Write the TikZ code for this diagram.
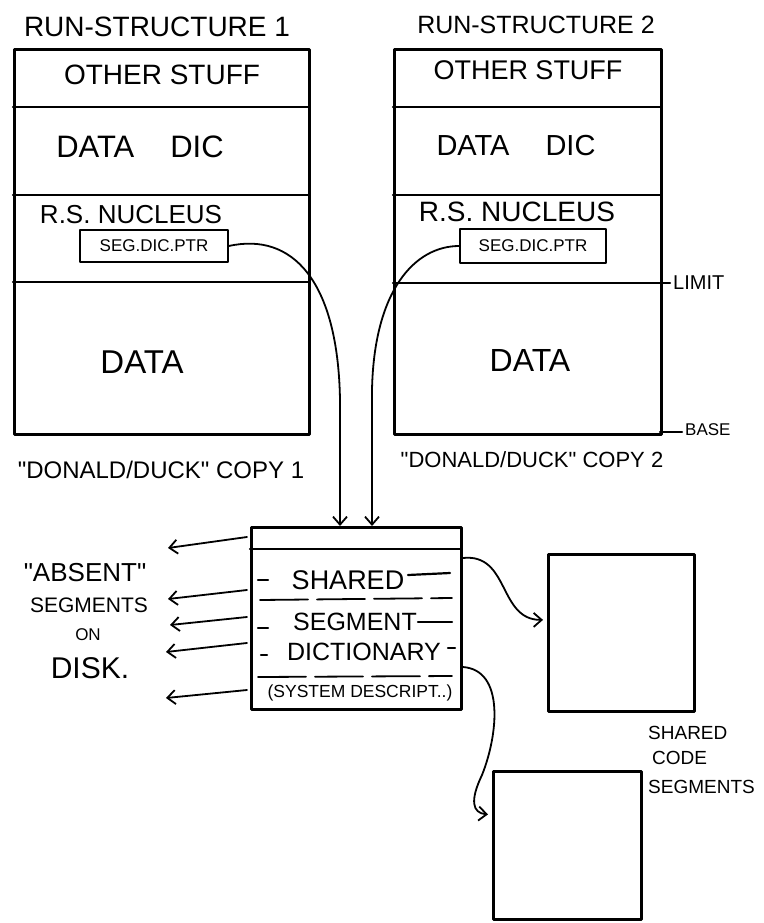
\documentclass[tikz,border=0pt]{standalone}
\usepackage{fontspec}
\setmainfont{Liberation Sans}
\usetikzlibrary{arrows.meta,calc}
\newcommand\lblsize[1]{\fontsize{#1}{#1}\selectfont}
\newcommand\qq{\textquotedbl}
\begin{document}
\begin{tikzpicture}[x=1pt,y=-1pt,
  line cap=round, line join=round,
  frame/.style={draw, line width=2.8pt, inner sep=0pt, anchor=north west},
  divider/.style={line width=2.2pt},
  ptrbox/.style={draw, line width=1.6pt, inner sep=0pt, font=\lblsize{17}},
  lbl/.style={inner sep=0pt},
  link/.style={line width=1.8pt, -{Straight Barb[length=8pt,width=14pt,line width=1.8pt]}},
  brokenline/.style={line width=1.8pt, dash pattern=on 48pt off 9pt}]
\useasboundingbox[fill=white] (0,0) rectangle (763,923);

% ---------- run-structure 1 ----------
\node[lbl, font=\lblsize{28}] (title1) at (157,27) {RUN-STRUCTURE 1};
\node[frame, minimum width=295pt, minimum height=385pt] (rs1) at (13,48) {};
\draw[divider] (13,107) -- (308,107);
\draw[divider] (13,195) -- (308,195);
\draw[divider] (13,282) -- (308,282);
\node[lbl, font=\lblsize{28}] (other1) at (162,75) {OTHER STUFF};
\node[lbl, font=\lblsize{31}] (dic1) at (140,147) {DATA\hspace{36pt}DIC};
\node[lbl, font=\lblsize{26}] (nuc1) at (131,215) {R.S. NUCLEUS};
\node[ptrbox, minimum width=148pt, minimum height=32pt] (ptr1) at (154,246) {SEG.DIC.PTR};
\node[lbl, font=\lblsize{33}] (data1) at (142,362) {DATA};
\node[lbl, font=\lblsize{24}] (copy1) at (161,470) {\qq DONALD/DUCK\qq{} COPY 1};

% ---------- run-structure 2 ----------
\node[lbl, font=\lblsize{25}] (title2) at (536,25) {RUN-STRUCTURE 2};
\node[frame, minimum width=267pt, minimum height=385pt] (rs2) at (393,48) {};
\draw[divider] (393,107) -- (660,107);
\draw[divider] (393,195) -- (660,195);
\draw[divider] (393,283) -- (670,283);
\draw[divider] (660,432) -- (682,432);
\node[lbl, font=\lblsize{27}] (other2) at (528,70) {OTHER STUFF};
\node[lbl, font=\lblsize{29}] (dic2) at (516,146) {DATA\hspace{36pt}DIC};
\node[lbl, font=\lblsize{28}] (nuc2) at (517,212) {R.S. NUCLEUS};
\node[ptrbox, minimum width=146pt, minimum height=34pt] (ptr2) at (533,246) {SEG.DIC.PTR};
\node[lbl, font=\lblsize{32}] (data2) at (530,360) {DATA};
\node[lbl, font=\lblsize{22}] (copy2) at (532,460) {\qq DONALD/DUCK\qq{} COPY 2};
\node[lbl, font=\lblsize{20}, anchor=west] (limit) at (673,283) {LIMIT};
\node[lbl, font=\lblsize{17}, anchor=west] (base) at (685,430) {BASE};

% ---------- shared segment dictionary ----------
\node[frame, minimum width=210pt, minimum height=182pt] (ssd) at (250,526) {};
\draw[divider] (250,549) -- (460,549);
% row: SHARED
\draw[divider] (258,580) -- (268,580);
\node[lbl, font=\lblsize{27}] (shared) at (348,580) {SHARED};
\draw[divider] (408,575) -- (450,573);
\draw[brokenline] (260,600) -- (452,598);
% row: SEGMENT
\draw[divider] (258,628) -- (268,628);
\node[lbl, font=\lblsize{25}] (segment) at (355,622) {SEGMENT};
\draw[divider] (418,622) -- (452,622);
% row: DICTIONARY
\draw[divider] (261,655) -- (267,655);
\node[lbl, font=\lblsize{25}] (dictionary) at (364,652) {DICTIONARY};
\draw[divider] (448,648) -- (455,648);
\draw[brokenline] (258,677) -- (452,676);
% row: system descriptors
\node[lbl, font=\lblsize{17.5}] (sysdesc) at (360,693) {(SYSTEM DESCRIPT..)};

% pointers from the two run-structures into the dictionary
\draw[link] (ptr1.east) .. controls (292,232) and (338,280) .. (340,400)
  -- ($(ssd.north west)+(90,0)$);
\draw[link] (ptr2.west) .. controls (415,246) and (374,290) .. (372,390)
  -- ($(ssd.north west)+(122,0)$);

% "absent" segments on disk
\node[lbl, font=\lblsize{26}] (absent) at (85,573) {\qq ABSENT\qq};
\node[lbl, font=\lblsize{21}] (segs) at (89,605) {SEGMENTS};
\node[lbl, font=\lblsize{17}] (on) at (88,635) {ON};
\node[lbl, font=\lblsize{30}] (disk) at (90,668) {DISK.};
\coordinate (d1) at (168,548);
\coordinate (d2) at (168,599);
\coordinate (d3) at (170,625);
\coordinate (d4) at (166,652);
\coordinate (d5) at (166,698);
\draw[link] ($(ssd.north west)+(-3,11)$) -- (d1);
\draw[link] ($(ssd.north west)+(-3,64)$) -- (d2);
\draw[link] ($(ssd.north west)+(-3,91)$) -- (d3);
\draw[link] ($(ssd.north west)+(-3,117)$) -- (d4);
\draw[link] ($(ssd.north west)+(-3,164)$) -- (d5);

% shared code segments
\node[frame, minimum width=146pt, minimum height=157pt] (code1) at (547,553) {};
\node[frame, minimum width=148pt, minimum height=148pt] (code2) at (492,770) {};
\node[lbl, font=\lblsize{19}, anchor=west] (sc1) at (648,733) {SHARED};
\node[lbl, font=\lblsize{19}, anchor=west] (sc2) at (652,758) {CODE};
\node[lbl, font=\lblsize{19}, anchor=west] (sc3) at (648,787) {SEGMENTS};

\draw[link] ($(ssd.north east)+(0,32)$) .. controls (510,553) and (498,620) .. ($(code1.west)+(-4,-13)$);
\draw[link] ($(ssd.north east)+(0,141)$) .. controls (505,670) and (498,735) .. (482,775)
  .. controls (470,800) and (472,813) .. ($(code2.west)+(-4,-31)$);
\end{tikzpicture}
\end{document}
